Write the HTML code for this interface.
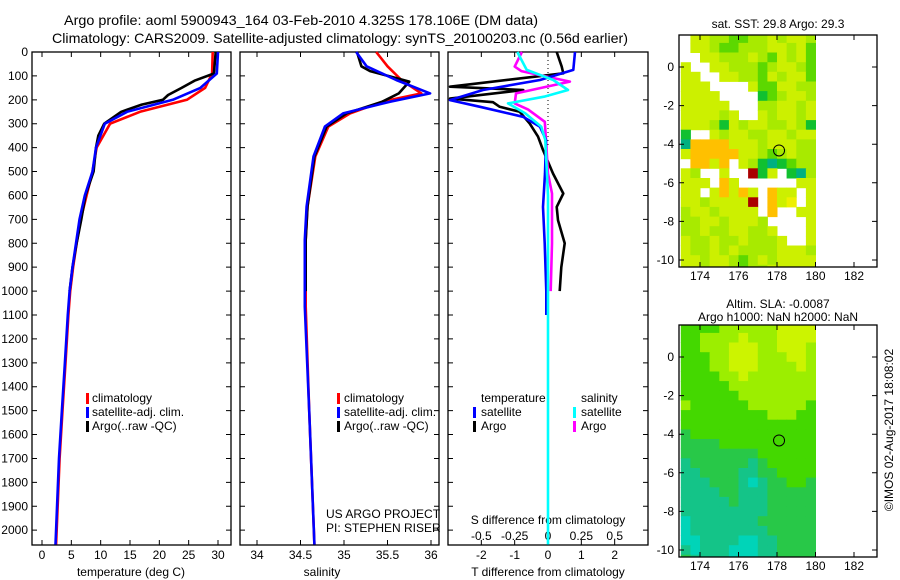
<!DOCTYPE html>
<html><head><meta charset="utf-8">
<style>
html,body{margin:0;padding:0;background:#fff;}
svg{display:block;font-family:"Liberation Sans",Arial,sans-serif;}
</style></head>
<body>
<svg id="fig" width="900" height="580" viewBox="0 0 900 580" xmlns="http://www.w3.org/2000/svg">
<text x="64" y="25" font-size="14" textLength="474" lengthAdjust="spacingAndGlyphs">Argo profile: aoml 5900943_164 03-Feb-2010 4.325S 178.106E (DM data)</text>
<text x="52" y="43" font-size="14" textLength="576" lengthAdjust="spacingAndGlyphs">Climatology: CARS2009. Satellite-adjusted climatology: synTS_20100203.nc (0.56d earlier)</text>
<g id="layer"></g>
</svg>
<script>
// ---------- data ----------
var depthTicks=[0,100,200,300,400,500,600,700,800,900,1000,1100,1200,1300,1400,1500,1600,1700,1800,1900,2000];
var tempTicks=[0,5,10,15,20,25,30];
var salTicks=[34,34.5,35,35.5,36];
var salTickLabels=['34','34.5','35','35.5','36'];
var tdTicks=[-2,-1,0,1,2];
var sdTicks=[-0.5,-0.25,0,0.25,0.5];
var sdTickLabels=['-0.5','-0.25','0','0.25','0.5'];

var tClimDepth=[0,90,150,200,250,300,400,500,600,700,800,900,1000,1100,1300,1500,1700,2060];
var tClim=[29.1,29.0,27.8,24.7,16.7,11.6,9.3,8.6,7.6,6.6,5.9,5.3,4.8,4.5,4.0,3.5,3.0,2.4];
var tSatDepth=[0,90,150,200,250,300,400,500,600,700,800,900,1000,1100,1300,1500,1700,2060];
var tSat=[30.0,29.8,27.0,22.3,14.5,10.7,9.2,8.6,7.3,6.4,5.8,5.2,4.7,4.4,3.9,3.4,2.9,2.3];
var tArgoDepth=[0,90,120,150,180,200,220,250,300,350,400,500,600,700,800,900,1000];
var tArgo=[29.6,29.3,26.0,23.8,21.5,20.6,17.0,13.5,10.6,9.6,9.2,8.8,7.4,6.7,5.9,5.2,4.7];

var sClimDepth=[0,60,117,173,208,257,312,437,646,786,1065,1500,2060];
var sClim=[35.37,35.5,35.66,35.89,35.44,35.07,34.82,34.67,34.58,34.56,34.56,34.6,34.66];
var sSatDepth=[0,60,117,173,208,257,312,437,646,786,1065,1500,2060];
var sSat=[35.14,35.26,35.6,35.99,35.53,34.99,34.78,34.65,34.57,34.55,34.55,34.6,34.66];
var sArgoDepth=[0,60,80,124,173,208,257,312,437,646,786,1000];
var sArgo=[35.15,35.2,35.3,35.75,35.63,35.44,35.03,34.8,34.66,34.58,34.56,34.56];

var dTSatDepth=[0,75,117,159,201,229,271,313,368,508,648,800,1000,1100];
var dTSat=[0.81,0.76,-0.24,-1.95,-2.94,-2.04,-0.75,-0.24,-0.06,-0.09,-0.15,-0.1,-0.05,-0.05];
var dTArgoDepth=[0,61,89,100,145,159,195,210,229,250,299,354,410,508,592,648,704,800,900,1000];
var dTArgo=[0.26,0.41,0.46,-0.2,-2.94,-0.74,-2.94,-1.65,-1.45,-0.85,-0.55,-0.3,-0.15,0.15,0.46,0.26,0.3,0.5,0.4,0.35];
var dSArgoDepth=[0,61,80,124,173,215,240,292,368,508,592,800,1000];
var dSArgo=[-0.196,-0.25,-0.2,0.164,-0.24,-0.25,-0.15,-0.024,-0.015,0.0,0.03,0.03,0.02];
var dSSatDepth=[0,75,117,159,187,215,257,313,368,600,1000,1500,2060];
var dSSat=[-0.23,-0.16,0.04,0.15,-0.03,-0.3,-0.17,-0.05,-0.02,0.0,0.0,0.0,0.0];

var lonTicks=[174,176,178,180,182];
var latTicks=[0,-2,-4,-6,-8,-10];
var mapLon0=173.0, mapLat0=1.75, cell=0.5;
var sstGrid=[
"WYYLLGGLLYLYYL","WYYLGGLLLYYLYG","WWYYLLLYLGYLYG","YWWYYLLLGLYYLG","YYWWYYLLGYLYYG",
"YYYWWWWYGGYYLL","YYYYWWWWDGLYYL","YYYYYWWWLLYYLY","YYYYLYWWYLYYLY","YYYLDYLYYLLYLD",
"DWWYLYYLLYYLYY","TOOOOYYYLYYYLL","YOOOOOYYLGLYLL","WOOYOWYLDTDGLL","YLWWYWWRDYWDTL",
"YYYWOYWWWWWWYY","YYWYOYOYWOYYWY","YYLYYYYRWOYoWY","LYYLYYYYWOWWYY","LLYYLYYYLWWWWY",
"LLYLLYYLLYWWWY","YLLYLLYLLLYWWY","YLLYLYLLLLYYYL","YYLYYLGLYLYYYY","YYLYYLGLLYYYYY"];
var slaGrid=[
"GGGGLLLLLLYYYY","GGLLLLYLLLYYYY","GGLLLYYYLLYYYL","GGGLLYYYLLLYYL","GGGLLYYYLLLLYL",
"GGGGLLYLLLLLLL","GGGGGLLLLLLLLL","GGGGGGLLLLLLLL","LGGGGGGLLLLLLG","GGGGGGGGGLLLGG",
"GGGGGGGGGGGGGG","DGGGGGGGGGGGGG","DDDDGGGGGGGGGG","DDDDDDDDGGGGGG","TDDDDDDTDGGGGG",
"TTDDDDTTDDGGGG","TTTDDDTCTDDGGD","TTTTDDTTTDDDDD","TTTTTDTTTDDDDD","TTTTTTTTTDDDDD",
"CTTTTTTTDDDDDD","CTTTTTTTTDDDDD","CCTTTTCCTTDDDD","TCTTTCCCTTDDDD","DTTTTCCCTTDDDD"];
var argoLon=178.106, argoLat=-4.325;

// ---------- helpers ----------
var NS='http://www.w3.org/2000/svg';
var layer=document.getElementById('layer');
function mk(tag,attrs,parent){var e=document.createElementNS(NS,tag);for(var k in attrs)e.setAttribute(k,attrs[k]);(parent||layer).appendChild(e);return e;}
function lin(d0,d1,r0,r1){return function(v){return r0+(v-d0)/(d1-d0)*(r1-r0);};}

var TOP=52,BOT=545;
var yD=lin(0,2062,TOP,BOT);

function frame(x0,x1,name){
  var r=mk('rect',{x:x0,y:TOP,width:x1-x0,height:BOT-TOP,fill:'none',stroke:'#000','stroke-width':1.3});
  
  
  depthTicks.forEach(function(d){
    var y=yD(d);
    var t=mk('path',{d:'M'+x0+' '+y+'h5M'+x1+' '+y+'h-5',stroke:'#000','stroke-width':1});
    
    
  });
}
function xticks(x0,x1,ticks,labels,sx,ly,name,bottomOnly){
  ticks.forEach(function(v,i){
    var x=sx(v);
    var t=mk('path',{d:'M'+x+' '+BOT+'v-5'+(bottomOnly?'':'M'+x+' '+TOP+'v5'),stroke:'#000','stroke-width':1});
    
    
    var tx=mk('text',{x:x,y:ly,'font-size':12,'text-anchor':'middle'});
    tx.textContent=labels[i];
    
    
  });
}
function line(xs,ds,sx,color,name,w){
  var p='';
  for(var i=0;i<xs.length;i++){p+=(i?'L':'M')+sx(xs[i]).toFixed(1)+' '+yD(ds[i]).toFixed(1);}
  var e=mk('path',{d:p,fill:'none',stroke:color,'stroke-width':w||2.6,'stroke-linejoin':'round'});
  
  
}
function txt(x,y,s,size,name,anchor){
  var e=mk('text',{x:x,y:y,'font-size':size,'text-anchor':anchor||'start'});
  e.textContent=s;
  
  
  return e;
}
function legBar(x,y,color,name){
  var e=mk('rect',{x:x,y:y-9,width:3,height:11,fill:color});
  
  
}

// ---------- panel 1 temperature ----------
var xT=lin(0,30,42,218);
frame(32,231,'temperature-panel');
depthTicks.forEach(function(d){
  var e=txt(28,yD(d)+4,String(d),12,'depth-tick-label','end');
});
xticks(32,231,tempTicks,tempTicks.map(String),xT,559,'temperature');
txt(131,576,'temperature (deg C)',12,'temperature-axis-title','middle');
line(tClim,tClimDepth,xT,'#f00','temp-climatology-line');
line(tArgo,tArgoDepth,xT,'#000','temp-argo-line');
line(tSat,tSatDepth,xT,'#00f','temp-satellite-line');
legBar(86,402,'#f00','legend-climatology-swatch');txt(92,402,'climatology',12,'legend-climatology');
legBar(86,416,'#00f','legend-satellite-swatch');txt(92,416,'satellite-adj. clim.',12,'legend-satellite-adj');
legBar(86,430,'#000','legend-argo-swatch');txt(92,430,'Argo(..raw -QC)',12,'legend-argo');

// ---------- panel 2 salinity ----------
var xS=lin(34,36,257,431);
frame(240,439,'salinity-panel');
xticks(240,439,salTicks,salTickLabels,xS,559,'salinity');
txt(322,576,'salinity',12,'salinity-axis-title','middle');
line(sClim,sClimDepth,xS,'#f00','sal-climatology-line');
line(sArgo,sArgoDepth,xS,'#000','sal-argo-line');
line(sSat,sSatDepth,xS,'#00f','sal-satellite-line');
legBar(337,402,'#f00','legend2-climatology-swatch');txt(344,402,'climatology',12,'legend2-climatology');
legBar(337,416,'#00f','legend2-satellite-swatch');txt(344,416,'satellite-adj. clim.',12,'legend2-satellite-adj');
legBar(337,430,'#000','legend2-argo-swatch');txt(344,430,'Argo(..raw -QC)',12,'legend2-argo');
txt(326,518,'US ARGO PROJECT',12,'project-credit');
txt(326,532,'PI: STEPHEN RISER',12,'pi-credit');

// ---------- panel 3 differences ----------
var xDT=lin(-3,3,448,648);
var xDS=lin(-0.75,0.75,448,648);
frame(448,648,'difference-panel');
xticks(448,648,tdTicks,tdTicks.map(String),xDT,559,'t-diff');
sdTicks.forEach(function(v,i){
  var e=txt(xDS(v),540,sdTickLabels[i],12,'s-diff-tick-label','middle');
});
txt(548,524,'S difference from climatology',12,'s-diff-axis-title','middle');
txt(548,576,'T difference from climatology',12,'t-diff-axis-title','middle');
var zl=mk('path',{d:'M'+xDT(0)+' '+TOP+'V'+yD(400),stroke:'#000','stroke-width':1,'stroke-dasharray':'1,3'});


line(dTArgo,dTArgoDepth,xDT,'#000','dT-argo-line');
line(dSArgo,dSArgoDepth,xDS,'#f0f','dS-argo-line');
line(dTSat,dTSatDepth,xDT,'#00f','dT-satellite-line');
line(dSSat,dSSatDepth,xDS,'#0ff','dS-satellite-line');
txt(481,402,'temperature',12,'legend3-temperature-header');
legBar(473,416,'#00f','legend3-t-sat-swatch');txt(481,416,'satellite',12,'legend3-t-satellite');
legBar(473,430,'#000','legend3-t-argo-swatch');txt(481,430,'Argo',12,'legend3-t-argo');
txt(581,402,'salinity',12,'legend3-salinity-header');
legBar(573,416,'#0ff','legend3-s-sat-swatch');txt(581,416,'satellite',12,'legend3-s-satellite');
legBar(573,430,'#f0f','legend3-s-argo-swatch');txt(581,430,'Argo',12,'legend3-s-argo');

// ---------- maps ----------
var sstPal={Y:'#ccf000',L:'#a8ea00',G:'#5cd800',D:'#10c030',T:'#00b080',O:'#ffc000',o:'#eef000',R:'#aa0000'};
var slaPal={Y:'#ccf400',L:'#9cee00',G:'#44d800',D:'#28c848',T:'#14c488',C:'#00d4b8'};
function drawMap(top,bottom,grid,pal,name,t1,t2){
  var L=679,R=877;
  var xL=lin(174,182,700,854);
  var lat0Y=top+32;
  var yL=lin(0,-10,lat0Y,lat0Y+193);
  var g=mk('g',{});
  
  
  var cp=mk('clipPath',{id:name+'-clip'},g);
  mk('rect',{x:L,y:top,width:R-L,height:bottom-top},cp);
  var cg=mk('g',{'clip-path':'url(#'+name+'-clip)'},g);
  for(var r=0;r<grid.length;r++){
    for(var c=0;c<grid[r].length;c++){
      var ch=grid[r][c]; if(!pal[ch]) continue;
      var lon=mapLon0+c*cell, lat=mapLat0-r*cell;
      var x0=xL(lon),x1=xL(lon+cell),y0=yL(lat),y1=yL(lat-cell);
      var e=mk('rect',{x:x0.toFixed(1),y:y0.toFixed(1),width:(x1-x0+0.5).toFixed(1),height:(y1-y0+0.5).toFixed(1),fill:pal[ch]},cg);
      
      
    }
  }
  var fr=mk('rect',{x:L,y:top,width:R-L,height:bottom-top,fill:'none',stroke:'#000','stroke-width':1.3},g);
  
  
  lonTicks.forEach(function(v){
    var x=xL(v);
    var t=mk('path',{d:'M'+x+' '+bottom+'v-5M'+x+' '+top+'v5',stroke:'#000'},g);
    
    
    var tx=txt(x,bottom+13,String(v),12,'lon-tick-label','middle');
  });
  latTicks.forEach(function(v){
    var y=yL(v);
    var t=mk('path',{d:'M'+L+' '+y+'h5M'+R+' '+y+'h-5',stroke:'#000'},g);
    
    
    var tx=txt(674,y+4,String(v),12,'lat-tick-label','end');
  });
  var ci=mk('circle',{cx:xL(argoLon),cy:yL(argoLat),r:5.5,fill:'none',stroke:'#000','stroke-width':1},g);
  
  
  if(t2){txt(778,top-17,t1,12,name+'-title-1','middle');txt(778,top-4,t2,12,name+'-title-2','middle');}
  else txt(778,top-7,t1,12,name+'-title','middle');
}
drawMap(35,267,sstGrid,sstPal,'sst-map','sat. SST: 29.8 Argo: 29.3');
drawMap(325,557,slaGrid,slaPal,'sla-map','Altim. SLA: -0.0087','Argo h1000: NaN h2000: NaN');

var cr=mk('text',{x:0,y:0,'font-size':12,'text-anchor':'middle',transform:'translate(893,430) rotate(-90)'});
cr.textContent='\u00A9IMOS 02-Aug-2017 18:08:02';


</script>
</body></html>
